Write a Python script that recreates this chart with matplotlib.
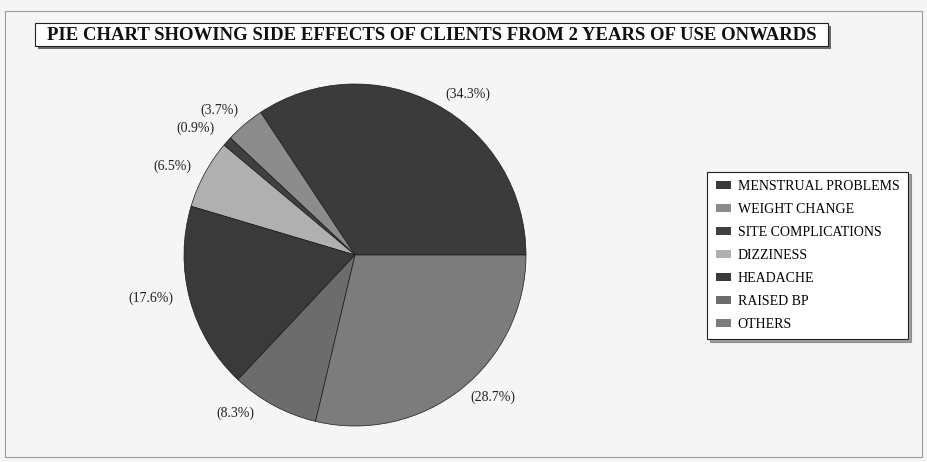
import numpy as np
import matplotlib
matplotlib.use("Agg")
import matplotlib.pyplot as plt
from matplotlib.patches import Rectangle, Patch

plt.rcParams['font.family'] = ['Liberation Serif', 'DejaVu Serif']

categories = ['MENSTRUAL PROBLEMS', 'WEIGHT CHANGE', 'SITE COMPLICATIONS',
              'DIZZINESS', 'HEADACHE', 'RAISED BP', 'OTHERS']
percent = [34.3, 3.7, 0.9, 6.5, 17.6, 8.3, 28.7]
colores = ['#3b3b3b', '#8c8c8c', '#404040', '#b0b0b0', '#3a3a3a', '#6c6c6c', '#7c7c7c']

# posicion de cada etiqueta: angulo (grados) y distancia relativa al radio
label_ang = [55, 133, 141.6, 154, 192, 233, 314]
label_dist = [1.15, 1.16, 1.19, 1.19, 1.22, 1.16, 1.16]

W, H = 928, 462
fig = plt.figure(figsize=(W / 100, H / 100), dpi=100)
fig.patch.set_facecolor('#f5f5f5')

# marco exterior
fig.patches.append(Rectangle((5 / W, 5 / H), 917 / W, 446 / H, transform=fig.transFigure,
                             fill=False, edgecolor='#9a9a9a', linewidth=0.8))

# titulo con caja y sombra
x0, y0, bw, bh = 35 / W, (H - 46) / H, 793 / W, 23 / H
fig.patches.append(Rectangle((x0 + 3 / W, y0 - 3 / H), bw, bh, transform=fig.transFigure,
                             facecolor='#6a6a6a', edgecolor='none'))
fig.patches.append(Rectangle((x0, y0), bw, bh, transform=fig.transFigure,
                             facecolor='white', edgecolor='#222222', linewidth=0.8))
fig.text(x0 + bw / 2, y0 + bh / 2 - 0.002,
         'PIE CHART SHOWING SIDE EFFECTS OF CLIENTS FROM 2 YEARS OF USE ONWARDS',
         ha='center', va='center', fontsize=13.5, fontweight='bold', color='#111111')

# pastel
cx, cy, r = 355, H - 255, 171
ax = fig.add_axes([(cx - r) / W, (cy - r) / H, 2 * r / W, 2 * r / H])
ax.set_facecolor('none')
wedges, _ = ax.pie(percent, colors=colores, startangle=0, counterclock=True,
                   wedgeprops=dict(edgecolor='#1a1a1a', linewidth=0.5))
ax.set_xlim(-1, 1)
ax.set_ylim(-1, 1)
ax.set_aspect('equal')
ax.axis('off')

# etiquetas de porcentaje
for p, a, d in zip(percent, label_ang, label_dist):
    ang = np.deg2rad(a)
    ax.text(d * np.cos(ang), d * np.sin(ang), f'({p}%)',
            ha='center', va='center', fontsize=10, color='#222222', clip_on=False)

# leyenda
handles = [Patch(facecolor=c, edgecolor='none') for c in colores]
leg = fig.legend(handles, categories, loc='center',
                 bbox_to_anchor=((707 + 908) / 2 / W, 1 - (175 + 336) / 2 / H),
                 frameon=True, fancybox=False, shadow=True, fontsize=10,
                 handlelength=1.1, handleheight=0.55, handletextpad=0.5,
                 labelspacing=0.72, borderpad=0.6)
leg.get_frame().set_edgecolor('#222222')
leg.get_frame().set_linewidth(0.8)
leg.get_frame().set_facecolor('white')

fig.savefig('out.png', dpi=100, facecolor=fig.get_facecolor())
